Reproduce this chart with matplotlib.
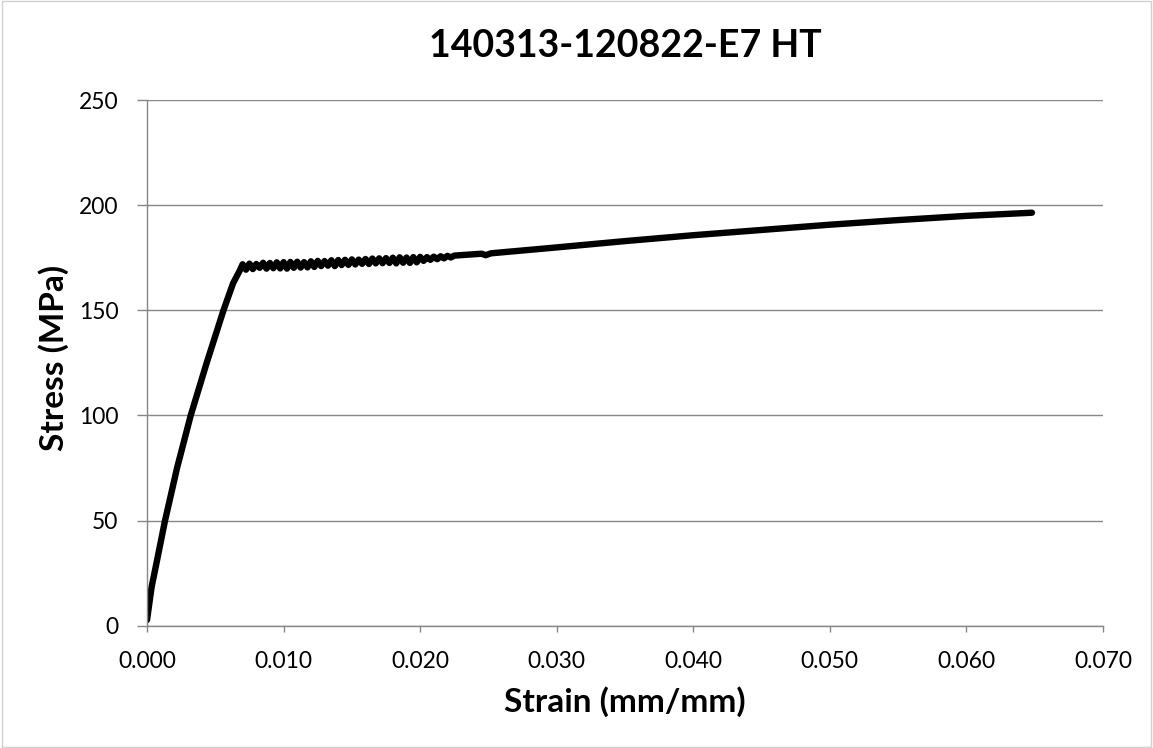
import matplotlib.pyplot as plt
from matplotlib.patches import Rectangle

# Stress-strain curve, values.
# Elastic part, knee, noisy plateau, then strain hardening to the end.
strain = [0.0, 0.00034, 0.0007, 0.00132, 0.0022, 0.0032, 0.00437, 0.0056, 0.0063, 0.0068,
          0.00700, 0.00725, 0.00750, 0.00775, 0.00800, 0.00825, 0.00850, 0.00875,
          0.00900, 0.00925, 0.00950, 0.00975, 0.01000, 0.01025, 0.01050, 0.01075,
          0.01100, 0.01125, 0.01150, 0.01175, 0.01200, 0.01225, 0.01250, 0.01275,
          0.01300, 0.01325, 0.01350, 0.01375, 0.01400, 0.01425, 0.01450, 0.01475,
          0.01500, 0.01525, 0.01550, 0.01575, 0.01600, 0.01625, 0.01650, 0.01675,
          0.01700, 0.01725, 0.01750, 0.01775, 0.01800, 0.01825, 0.01850, 0.01875,
          0.01900, 0.01925, 0.01950, 0.01975, 0.02000, 0.02025, 0.02050, 0.02075,
          0.02100, 0.02125, 0.02150, 0.02175, 0.02200, 0.02225, 0.02250,
          0.0245, 0.0248, 0.0252, 0.0300, 0.0350, 0.0400, 0.0450, 0.0500, 0.0550, 0.0600, 0.0648]
stress = [2.7, 18.5, 30.0, 50.0, 75.0, 100.0, 125.0, 150.0, 162.8, 169.0,
          171.9, 169.3, 172.2, 169.6, 172.0, 170.2, 172.6, 169.8,
          172.5, 170.0, 172.8, 169.9, 172.9, 169.8, 173.0, 170.2,
          173.1, 170.3, 172.9, 170.4, 173.3, 170.6, 173.5, 171.0,
          173.4, 171.2, 173.8, 171.0, 173.9, 171.5, 174.0, 171.6,
          174.2, 171.8, 174.1, 172.1, 174.4, 172.0, 174.6, 172.3,
          174.7, 172.4, 174.8, 172.5, 175.0, 172.3, 175.2, 172.6,
          175.1, 172.5, 175.3, 172.8, 175.4, 173.5, 175.3, 174.0,
          175.5, 174.3, 175.7, 174.7, 175.9, 175.1, 176.0,
          176.9, 176.2, 177.1, 179.9, 182.9, 185.7, 188.2, 190.7, 192.9, 194.9, 196.4]

xticks = [0.0, 0.01, 0.02, 0.03, 0.04, 0.05, 0.06, 0.07]
yticks = [0, 50, 100, 150, 200, 250]

plt.rcParams['font.family'] = ['Lato', 'DejaVu Sans']
grey = '#868686'

fig = plt.figure(figsize=(11.53, 7.48), dpi=100)
ax = fig.add_axes([0.1275, 0.1635, 0.8291, 0.7028])

ax.plot(strain, stress, c='black', lw=4.6, solid_capstyle='round', solid_joinstyle='round')

ax.set_xlim(0, 0.07)
ax.set_ylim(0, 250)
ax.set_xticks(xticks)
ax.set_xticklabels([f'{v:.3f}' for v in xticks])
ax.set_yticks(yticks)
ax.grid(axis='y', color=grey, lw=1)
ax.set_axisbelow(True)

for s in ['top', 'right']:
    ax.spines[s].set_visible(False)
for s in ['left', 'bottom']:
    ax.spines[s].set_color(grey)
    ax.spines[s].set_linewidth(1)
ax.tick_params(axis='both', direction='out', width=1, color=grey,
               labelsize=16.5, labelcolor='black')
ax.tick_params(axis='x', length=4.5, pad=14)
ax.tick_params(axis='y', length=7, pad=13.5)

ax.set_title('140313-120822-E7 HT', fontsize=27, fontweight='bold', pad=31)
ax.set_xlabel('Strain (mm/mm)', fontsize=24, fontweight='bold', labelpad=10)
ax.set_ylabel('Stress (MPa)', fontsize=24, fontweight='bold')
ax.yaxis.set_label_coords(-0.082, 0.51)

# thin border round the whole chart, like the Excel chart area
fig.patches.append(Rectangle((0.0015, 0.002), 0.997, 0.996, transform=fig.transFigure,
                             fill=False, ec='#d0d0d0', lw=1))

fig.savefig('out.png', dpi=100)
